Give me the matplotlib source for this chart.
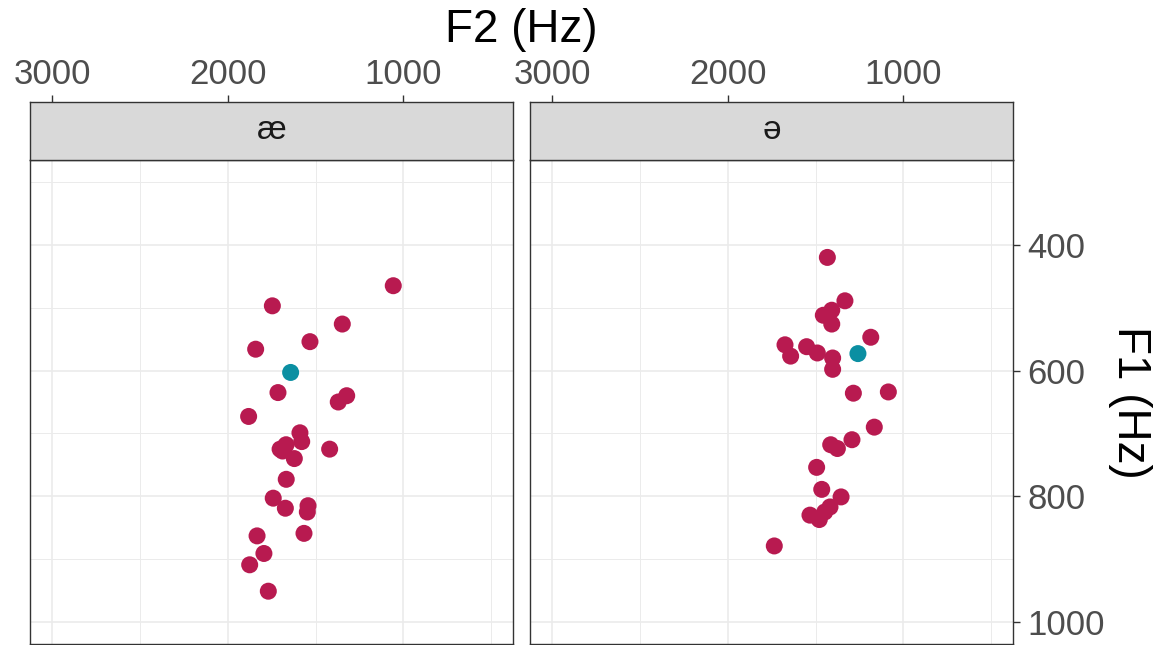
import matplotlib.pyplot as plt
from matplotlib.ticker import FixedLocator

plt.rcParams['font.family'] = ['Liberation Sans', 'DejaVu Sans']

# vocales
vocal_ae = "æ"
vocal_schwa = "ə"

# formantes de cada token (Hz)
ae_f2 = [1058, 1746, 1348, 1532, 1841, 1714, 1371, 1323, 1881, 1589, 1579, 1702, 1668,
         1688, 1621, 1420, 1667, 1741, 1672, 1543, 1547, 1566, 1833, 1794, 1875, 1769]
ae_f1 = [465, 497, 526, 554, 566, 635, 650, 640, 673, 699, 713, 725, 718,
         728, 740, 725, 773, 803, 819, 815, 825, 859, 863, 891, 909, 951]
ae_media_f2 = [1642]
ae_media_f1 = [603]

schwa_f2 = [1433, 1333, 1408, 1456, 1408, 1186, 1674, 1642, 1551, 1490, 1403, 1403, 1285,
            1086, 1166, 1293, 1414, 1376, 1494, 1465, 1355, 1418, 1532, 1479, 1448, 1735]
schwa_f1 = [420, 489, 504, 512, 526, 547, 559, 577, 562, 572, 580, 598, 636,
            634, 690, 710, 718, 724, 754, 789, 801, 817, 830, 837, 825, 879]
schwa_media_f2 = [1259]
schwa_media_f1 = [573]

x_major = [3000, 2000, 1000]
x_minor = [2500, 1500, 500]
y_major = [400, 600, 800, 1000]
y_minor = [300, 500, 700, 900]

rojo = "#B81A50"
azul = "#0B8FA2"
gris_borde = "#333333"
gris_grid = "#EBEBEB"

W, H = 1158, 645
fig = plt.figure(figsize=(W / 100, H / 100), dpi=100)

paneles = [
    (30, vocal_ae, ae_f2, ae_f1, ae_media_f2, ae_media_f1),
    (530, vocal_schwa, schwa_f2, schwa_f1, schwa_media_f2, schwa_media_f1),
]
ancho = 483.3
arriba = 160
abajo = 644
strip_top = 101.7

for i, (x0, vocal, f2, f1, m2, m1) in enumerate(paneles):
    ax = fig.add_axes([x0 / W, (H - abajo) / H, ancho / W, (abajo - arriba) / H])
    ax.set_xlim(3125, 375)
    ax.set_ylim(1035, 265)
    ax.xaxis.set_major_locator(FixedLocator(x_major))
    ax.xaxis.set_minor_locator(FixedLocator(x_minor))
    ax.yaxis.set_major_locator(FixedLocator(y_major))
    ax.yaxis.set_minor_locator(FixedLocator(y_minor))
    ax.grid(which='major', color=gris_grid, lw=1.2)
    ax.grid(which='minor', color=gris_grid, lw=0.7)
    ax.set_axisbelow(True)
    ax.tick_params(axis='x', which='both', bottom=False, top=False, labelbottom=False)
    if i == 1:
        ax.yaxis.tick_right()
        ax.tick_params(axis='y', which='major', length=5, width=1, color=gris_borde,
                       labelsize=25, labelcolor="#4D4D4D", pad=5)
    else:
        ax.tick_params(axis='y', which='both', left=False, right=False, labelleft=False)
    ax.tick_params(axis='y', which='minor', left=False, right=False)
    for s in ax.spines.values():
        s.set_color(gris_borde)
        s.set_linewidth(1)

    ax.scatter(f2, f1, s=150, color=rojo, edgecolors='none', zorder=3)
    ax.scatter(m2, m1, s=150, color=azul, edgecolors='none', zorder=4)

    # franja con el nombre de la vocal y el eje F2 arriba
    st = fig.add_axes([x0 / W, (H - arriba) / H, ancho / W, (arriba - strip_top) / H])
    st.set_facecolor("#D9D9D9")
    st.set_xlim(3125, 375)
    st.set_ylim(0, 1)
    st.set_yticks([])
    st.xaxis.tick_top()
    st.set_xticks(x_major)
    st.set_xticklabels([str(v) for v in x_major])
    st.tick_params(axis='x', length=5, width=1, color=gris_borde,
                   labelsize=25, labelcolor="#4D4D4D", pad=3)
    for s in st.spines.values():
        s.set_color(gris_borde)
        s.set_linewidth(1)
    st.text(0.5, 0.5, vocal, transform=st.transAxes, ha='center', va='center',
            fontsize=24, color="#1A1A1A")

fig.text(521.5 / W, 1 - 30 / H, "F2 (Hz)", ha='center', va='center', fontsize=33)
fig.text(1130 / W, 1 - 402 / H, "F1 (Hz)", ha='center', va='center', fontsize=33,
         rotation=270)

fig.savefig("out.png", dpi=100)
